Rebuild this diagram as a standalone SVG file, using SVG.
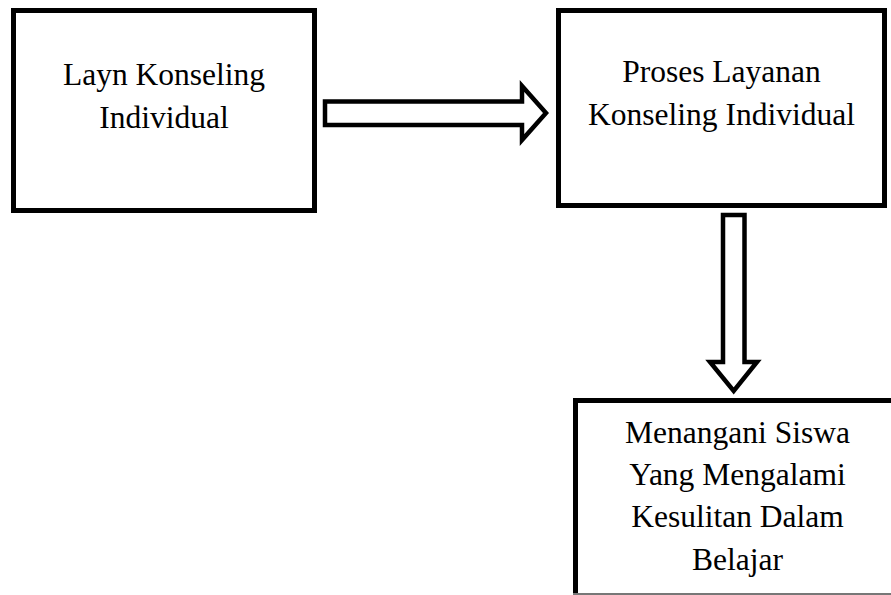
<svg xmlns="http://www.w3.org/2000/svg" width="891" height="595" viewBox="0 0 891 595">
<style>
.box{fill:#fff;stroke:#000;stroke-width:5}
.arr{fill:#fff;stroke:#000;stroke-width:4.5;stroke-linejoin:miter}
text{font-family:"Liberation Serif","Times New Roman",serif;font-size:31.5px;fill:#000;text-anchor:middle}
</style>
<rect width="891" height="595" fill="#fff"/>
<g id="node1">
<rect class="box" x="13.5" y="10.5" width="301" height="200"/>
<text x="164" y="85">Layn Konseling</text>
<text x="164" y="128">Individual</text>
</g>
<g id="node2">
<rect class="box" x="558.5" y="10.5" width="326" height="195"/>
<text x="721.5" y="82">Proses Layanan</text>
<text x="721.5" y="125">Konseling Individual</text>
</g>
<g id="node3">
<rect class="box" x="575.5" y="400.5" width="330" height="210"/>
<line x1="573" y1="594" x2="891" y2="594" stroke="#777" stroke-width="2"/>
<text x="737.5" y="443">Menangani Siswa</text>
<text x="737.5" y="485">Yang Mengalami</text>
<text x="737.5" y="527">Kesulitan Dalam</text>
<text x="737.5" y="570">Belajar</text>
</g>
<g id="connectors">
<path class="arr" d="M325,101.5 H522 V86 L546,113 L522,140 V125 H325 Z"/>
<path class="arr" d="M723,215 H744.5 V362 H757 L733.7,391 L710,362 H723 Z"/>
</g>
</svg>
